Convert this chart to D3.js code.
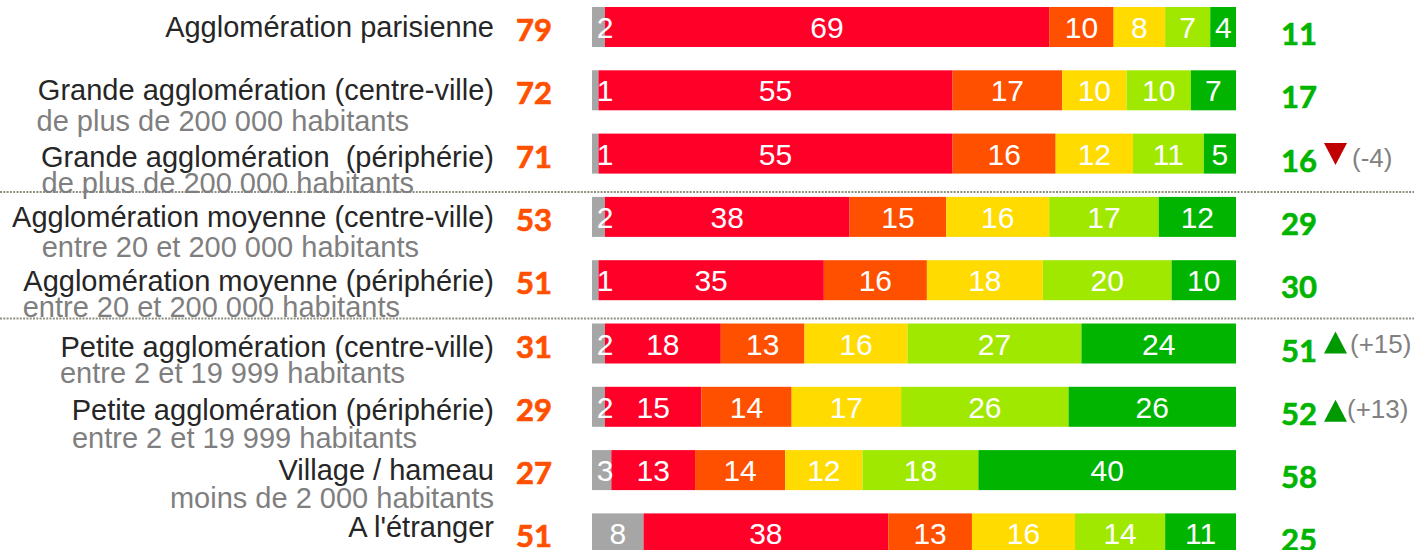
<!DOCTYPE html>
<html><head><meta charset="utf-8">
<script src="https://cdn.jsdelivr.net/npm/d3@7"></script>
<style>body{margin:0;background:#fff;overflow:hidden} svg{display:block}</style>
</head><body>
<script>
// ---- data ----
const categories = [
  "Agglomération parisienne",
  "Grande agglomération (centre-ville)",
  "Grande agglomération  (périphérie)",
  "Agglomération moyenne (centre-ville)",
  "Agglomération moyenne (périphérie)",
  "Petite agglomération (centre-ville)",
  "Petite agglomération (périphérie)",
  "Village / hameau",
  "A l'étranger"
];
const subLabels = [
  "",
  "de plus de 200 000 habitants",
  "de plus de 200 000 habitants",
  "entre 20 et 200 000 habitants",
  "entre 20 et 200 000 habitants",
  "entre 2 et 19 999 habitants",
  "entre 2 et 19 999 habitants",
  "moins de 2 000 habitants",
  ""
];
const leftTotals  = [79, 72, 71, 53, 51, 31, 29, 27, 51];
const nsp         = [2, 1, 1, 2, 1, 2, 2, 3, 8];
const red         = [69, 55, 55, 38, 35, 18, 15, 13, 38];
const orange      = [10, 17, 16, 15, 16, 13, 14, 14, 13];
const yellow      = [8, 10, 12, 16, 18, 16, 17, 12, 16];
const lightGreen  = [7, 10, 11, 17, 20, 27, 26, 18, 14];
const green       = [4, 7, 5, 12, 10, 24, 26, 40, 11];
const rightTotals = [11, 17, 16, 29, 30, 51, 52, 58, 25];
const changes     = [null, null, -4, null, null, 15, 13, null, null];
const separatorsBefore = [3, 5]; // dotted line before these row indices

// ---- styling / layout ----
const seriesKeys = ["nsp", "red", "orange", "yellow", "lightGreen", "green"];
const seriesColors = ["#A6A6A6", "#FF0029", "#FF5000", "#FFDB00", "#A0E800", "#00B400"];
const mainDy = [10, 9.5, 13.5, 10.5, 11, 13, 13, 10, 4];
const subDy  = [0, 40.5, 39.5, 40.5, 37, 39, 41, 38, 0];
const subRight = [0, 409, 414, 419, 400, 405, 417, 494, 0];
const arrowLayout = { 2: {ty: -10.5, tx: 1352, dy: 13.5}, 5: {ty: -12, tx: 1350, dy: 9}, 6: {ty: -7, tx: 1347, dy: 11} };

const W = 1414, H = 550;
const svg = d3.select("body").append("svg").attr("width", W).attr("height", H);

const table = categories.map((c, i) => ({
  cat: c, nsp: nsp[i], red: red[i], orange: orange[i], yellow: yellow[i],
  lightGreen: lightGreen[i], green: green[i]
}));
const stacked = d3.stack().keys(seriesKeys)(table);

const x = d3.scaleLinear().domain([0, 100]).range([592, 1236]);
const step = 63.3, bh = 40, top0 = 7;
const y = d3.scaleBand().domain(categories)
  .range([top0, top0 + 9 * step - (step - bh)])
  .paddingInner((step - bh) / step).paddingOuter(0);
const color = d3.scaleOrdinal().domain(seriesKeys).range(seriesColors);
const cy = c => y(c) + y.bandwidth() / 2;

// dotted separators
svg.selectAll("line.sep").data(separatorsBefore).join("line")
  .attr("x1", 0).attr("x2", W)
  .attr("y1", i => y(categories[i]) - 5).attr("y2", i => y(categories[i]) - 5)
  .attr("stroke", "#8f8f80").attr("stroke-width", 2).attr("stroke-dasharray", "2,1.3");

// bars
const layers = svg.selectAll("g.layer").data(stacked).join("g")
  .attr("class", "layer")
  .attr("fill", d => color(d.key));
layers.selectAll("rect").data(d => d).join("rect")
  .attr("x", d => x(d[0])).attr("width", d => x(d[1]) - x(d[0]))
  .attr("y", d => y(d.data.cat)).attr("height", y.bandwidth());

// segment labels (drawn above all bars)
const segLabels = svg.append("g").attr("class", "seglabels");
segLabels.selectAll("g").data(stacked).join("g")
  .selectAll("text").data(d => d).join("text")
  .attr("x", d => Math.max((x(d[0]) + x(d[1])) / 2, x(d[0]) + 13))
  .attr("y", d => cy(d.data.cat) + 11)
  .attr("text-anchor", "middle")
  .attr("fill", "#fff")
  .attr("font-family", "'Liberation Sans', Arial, sans-serif")
  .attr("font-size", 30)
  .text(d => d[1] - d[0]);

// row labels
svg.selectAll("text.main").data(categories).join("text")
  .attr("class", "main")
  .attr("x", 494).attr("y", (c, i) => cy(c) + mainDy[i])
  .attr("text-anchor", "end")
  .attr("fill", "#262626")
  .attr("font-family", "'Liberation Sans', Arial, sans-serif")
  .attr("font-size", 29)
  .style("white-space", "pre")
  .text(c => c);

svg.selectAll("text.sub").data(categories).join("text")
  .attr("class", "sub")
  .attr("x", (c, i) => subRight[i]).attr("y", (c, i) => cy(c) + subDy[i])
  .attr("text-anchor", "end")
  .attr("fill", "#7F7F7F")
  .attr("font-family", "'Liberation Sans', Arial, sans-serif")
  .attr("font-size", 29)
  .text((c, i) => subLabels[i]);

// left totals
svg.selectAll("text.lt").data(categories).join("text")
  .attr("class", "lt")
  .attr("x", 552).attr("y", c => cy(c) + 14)
  .attr("text-anchor", "end")
  .attr("fill", "#FF5000")
  .attr("stroke", "#FF5000").attr("stroke-width", 0.7)
  .attr("font-family", "Lato, 'Open Sans', sans-serif")
  .attr("font-weight", "bold")
  .attr("font-size", 31)
  .text((c, i) => leftTotals[i]);

// right totals
svg.selectAll("text.rt").data(categories).join("text")
  .attr("class", "rt")
  .attr("x", 1281).attr("y", c => cy(c) + 18)
  .attr("fill", "#00B400")
  .attr("stroke", "#00B400").attr("stroke-width", 0.6)
  .attr("font-family", "Lato, 'Open Sans', sans-serif")
  .attr("font-weight", "bold")
  .attr("font-size", 31)
  .text((c, i) => rightTotals[i]);

// change arrows
const arrowRows = changes.map((v, i) => ({ v, i })).filter(d => d.v !== null);
const ag = svg.selectAll("g.arrow").data(arrowRows).join("g").attr("class", "arrow");
ag.append("path")
  .attr("d", d => {
    const c = cy(categories[d.i]) + arrowLayout[d.i].ty;
    const x0 = 1324, w = 23, h = 22;
    return d.v < 0
      ? `M${x0},${c}L${x0 + w},${c}L${x0 + w / 2},${c + h}Z`
      : `M${x0},${c + h}L${x0 + w},${c + h}L${x0 + w / 2},${c}Z`;
  })
  .attr("fill", d => d.v < 0 ? "#C00000" : "#009A00");
ag.append("text")
  .attr("x", d => arrowLayout[d.i].tx)
  .attr("y", d => cy(categories[d.i]) + arrowLayout[d.i].dy)
  .attr("fill", "#808080")
  .attr("font-family", "'Liberation Sans', Arial, sans-serif")
  .attr("font-size", 26)
  .text(d => `(${d.v > 0 ? "+" : ""}${d.v})`);
</script>
</body></html>
